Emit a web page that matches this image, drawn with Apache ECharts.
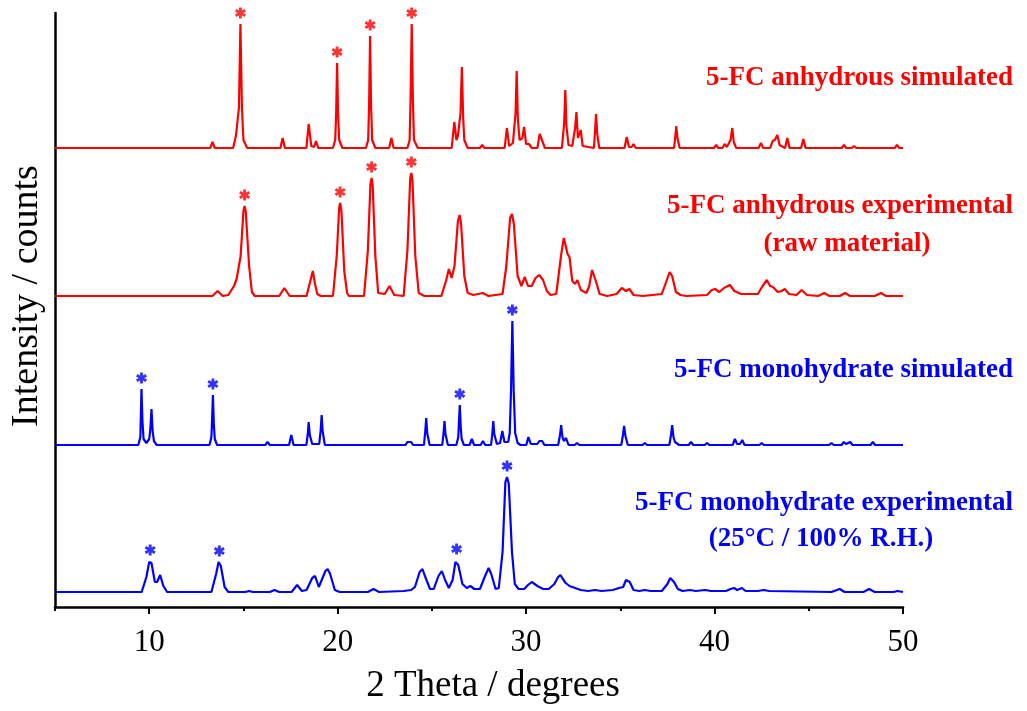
<!DOCTYPE html>
<html>
<head>
<meta charset="utf-8">
<script src="https://cdn.jsdelivr.net/npm/echarts@6/dist/echarts.min.js"></script>
<style>html,body{margin:0;padding:0;background:#fff}#c{width:1027px;height:711px}</style>
</head>
<body>
<div id="c"></div>
<script>
// ---- data (2θ in degrees, intensity above each pattern's own baseline, arbitrary counts) ----
const xTickLabels = [10, 20, 30, 40, 50];
const xMinorTicks = [5, 15, 25, 35, 45];

const seriesNames = [
  '5-FC anhydrous simulated',
  '5-FC anhydrous experimental',
  '5-FC monohydrate simulated',
  '5-FC monohydrate experimental'
];
const labelLines = [
  ['5-FC anhydrous simulated'],
  ['5-FC anhydrous experimental', '(raw material)'],
  ['5-FC monohydrate simulated'],
  ['5-FC monohydrate experimental', '(25°C / 100% R.H.)']
];
// vertical stacking offsets of the patterns
const offsets = [459, 311, 162, 15];

const anhSim = [
  [5,0],[13.24,0],[13.36,6],[13.48,0],
  [14.45,0],[14.6,12],[14.7,12],[14.76,40],[14.84,124],[14.92,40],[15.0,8],[15.2,0],
  [16.96,0],[17.08,10],[17.2,0],
  [18.34,0],[18.46,24],[18.6,2],[18.75,1],[18.85,7],[18.97,0],
  [19.75,0],[19.87,8],[19.92,35],[19.97,85],[20.02,35],[20.08,8],[20.25,0],
  [21.5,0],[21.62,8],[21.67,45],[21.72,112],[21.77,45],[21.83,8],[22.0,0],
  [22.73,0],[22.85,10],[22.97,0],
  [23.7,0],[23.82,8],[23.87,50],[23.93,124],[23.99,50],[24.05,8],[24.25,0],
  [26.05,0],[26.19,26],[26.3,8],[26.38,12],[26.52,35],[26.59,81],[26.66,30],[26.72,8],[26.9,0],
  [27.55,0],[27.67,3],[27.79,0],
  [28.86,0],[28.98,20],[29.1,2],[29.3,5],[29.44,35],[29.5,77],[29.56,30],[29.65,8],[29.8,10],[29.89,21],[30.0,4],[30.15,4],[30.3,0],
  [30.6,0],[30.72,14],[30.8,16],[30.9,5],[31.0,0],
  [31.9,0],[32.02,25],[32.08,58],[32.14,22],[32.25,3],[32.45,2],[32.6,20],[32.67,36],[32.75,10],[32.82,8],[32.9,18],[33.0,2],[33.1,0],
  [33.6,0],[33.66,17],[33.71,34],[33.77,15],[33.88,0],
  [35.22,0],[35.34,11],[35.46,1],[35.6,1],[35.7,4],[35.82,0],
  [36.6,0],[36.7,1],[36.8,0],
  [37.85,0],[37.92,12],[37.97,22],[38.03,10],[38.15,0],[38.4,0],[38.5,2],[38.6,0],
  [39.3,0],[39.4,1],[39.5,0],
  [39.97,0],[40.09,3],[40.2,0],[40.42,0],[40.53,4],[40.65,1],[40.85,8],[40.94,20],[41.02,6],[41.15,0],
  [41.5,0],[41.6,1],[41.7,0],
  [42.34,0],[42.46,5],[42.58,0],
  [42.95,0],[43.08,7],[43.2,8],[43.33,13],[43.45,3],[43.55,1],[43.74,0],[43.86,10],[43.98,0],
  [44.59,0],[44.71,9],[44.83,0],
  [46.3,0],[46.4,1],[46.5,0],[46.75,0],[46.87,3],[46.99,0],
  [47.28,0],[47.4,2],[47.52,0],
  [49.56,0],[49.68,3],[49.8,0],[50,0]
];

const anhExp = [
  [5,0],[9.9,0],[10.0,1],[10.1,0],
  [13.35,0],[13.63,5],[13.9,0],
  [14.2,1],[14.5,10],[14.64,17],[14.85,40],[15.0,85],[15.06,90],[15.12,85],[15.3,30],[15.45,4],[15.6,0],
  [16.9,0],[17.17,8],[17.45,0],
  [18.35,0],[18.55,15],[18.68,25],[18.8,12],[18.92,2],[18.98,3],[19.1,0],
  [19.75,0],[19.95,40],[20.08,88],[20.13,93],[20.2,85],[20.35,25],[20.5,3],[20.6,0],
  [21.4,0],[21.6,45],[21.74,112],[21.8,118],[21.86,110],[22.0,40],[22.15,3],[22.5,2],[22.75,10],[23.0,1],
  [23.5,0],[23.7,45],[23.85,118],[23.91,123],[23.97,115],[24.12,40],[24.3,3],[24.6,0],
  [25.5,0],[25.75,15],[25.9,27],[26.05,18],[26.2,30],[26.38,75],[26.47,81],[26.55,72],[26.72,20],[26.9,3],[27.2,1],[27.7,3],[28.0,0],
  [28.75,2],[28.95,30],[29.15,78],[29.25,82],[29.35,72],[29.55,20],[29.75,10],[29.93,19],[30.1,10],[30.3,10],[30.5,18],[30.69,21],[30.9,16],[31.1,5],[31.3,1],
  [31.6,2],[31.85,40],[32.0,58],[32.07,59],[32.2,42],[32.3,39],[32.45,15],[32.6,12],[32.72,16],[32.9,6],[33.2,3],
  [33.35,10],[33.5,26],[33.57,28],[33.7,15],[33.9,2],[34.3,0],
  [34.8,2],[35.08,8],[35.3,5],[35.48,7],[35.7,1],[36.2,0],
  [37.2,2],[37.45,15],[37.62,24],[37.75,20],[37.95,4],[38.2,1],[38.5,0],
  [39.6,1],[39.85,6],[40.03,7],[40.25,4],[40.5,8],[40.82,11],[41.05,5],[41.4,2],
  [42.3,2],[42.55,10],[42.77,16],[42.95,10],[43.1,9],[43.35,4],[43.55,5],[43.73,7],[43.95,2],
  [44.35,1],[44.62,6],[44.9,1],
  [45.5,0],[45.82,3],[46.1,0],
  [46.65,0],[46.92,3],[47.2,0],
  [48.5,0],[48.83,3],[49.1,0],[50,0]
];

const monoSim = [
  [5,0],[9.42,0],[9.53,8],[9.55,25],[9.59,56],[9.64,24],[9.7,6],[9.85,2],[10.0,6],[10.06,16],[10.12,36],[10.18,14],[10.25,4],[10.4,0],
  [11.6,0],[11.7,1],[11.8,0],
  [13.2,0],[13.3,8],[13.33,22],[13.38,50],[13.43,20],[13.48,6],[13.6,0],
  [15.3,0],[15.4,1],[15.5,0],
  [16.16,0],[16.28,3],[16.4,0],
  [17.42,0],[17.54,10],[17.66,0],
  [18.34,0],[18.42,12],[18.46,23],[18.52,10],[18.65,1],
  [19.02,1],[19.1,15],[19.15,30],[19.2,14],[19.32,0],
  [21.8,0],[21.9,1],[22.0,0],
  [23.6,0],[23.7,3],[23.8,1],[23.9,3],[24.0,0],
  [24.58,0],[24.65,14],[24.7,27],[24.75,12],[24.88,0],
  [25.55,0],[25.62,12],[25.67,24],[25.72,11],[25.85,0],
  [26.3,0],[26.4,8],[26.43,20],[26.48,40],[26.53,18],[26.58,6],[26.7,0],
  [27.0,0],[27.12,6],[27.24,0],
  [27.59,0],[27.71,4],[27.83,0],
  [28.14,0],[28.21,12],[28.26,24],[28.31,11],[28.45,1],[28.62,2],[28.74,14],[28.85,3],[29.05,3],[29.13,12],[29.2,55],[29.27,124],[29.34,55],[29.42,12],[29.55,2],[29.7,0],
  [30.01,0],[30.12,8],[30.25,1],[30.6,1],[30.7,4],[30.78,2],[30.85,4],[30.97,0],
  [31.7,0],[31.8,10],[31.86,20],[31.93,8],[32.0,4],[32.12,7],[32.25,0],
  [32.58,0],[32.7,2],[32.82,0],
  [33.0,0],[33.1,1],[33.2,0],
  [33.6,0],[33.7,1],[33.8,0],
  [35.05,0],[35.14,10],[35.2,19],[35.27,9],[35.4,0],
  [36.18,0],[36.3,2],[36.42,0],
  [37.6,0],[37.69,10],[37.75,20],[37.82,8],[37.9,3],[38.0,3],[38.12,0],
  [38.63,0],[38.75,3],[38.87,0],
  [39.48,0],[39.6,2],[39.72,0],
  [40.4,0],[40.5,1],[40.6,0],
  [40.96,0],[41.08,6],[41.2,1],[41.35,1],[41.47,5],[41.59,0],
  [42.38,0],[42.5,2],[42.62,0],[42.8,0],[42.9,1],[43.0,0],
  [46.08,0],[46.2,2],[46.32,0],
  [46.74,0],[46.86,3],[46.98,1],[47.08,1],[47.2,3],[47.32,0],
  [48.28,0],[48.4,3],[48.52,0],
  [49.8,0],[49.9,1],[50,0]
];

const monoExp = [
  [5,0],[9.6,0],[9.85,15],[10.0,30],[10.05,31],[10.12,29],[10.3,10],[10.42,10],[10.58,17],[10.75,6],[10.95,0],
  [13.3,0],[13.55,18],[13.68,30],[13.72,30],[13.8,26],[14.0,5],[14.2,0],
  [15.1,0],[15.3,1],[15.5,0],
  [16.4,0],[16.65,2],[16.9,0],
  [17.55,0],[17.85,7],[18.1,1],[18.35,2],[18.65,14],[18.8,16],[19.0,5],[19.1,5],[19.35,21],[19.47,23],[19.6,18],[19.85,2],[20.1,0],
  [21.6,0],[21.9,3],[22.2,0],
  [23.5,1],[23.9,2],[24.1,5],[24.35,20],[24.5,23],[24.65,15],[24.9,3],[25.1,3],[25.35,16],[25.53,21],[25.7,12],[25.9,4],
  [26.1,12],[26.25,30],[26.31,32],[26.4,27],[26.62,8],[26.85,4],[27.04,6],[27.25,3],[27.55,3],[27.8,15],[28.01,24],[28.15,18],[28.38,3],
  [28.55,4],[28.75,40],[28.9,110],[28.99,115],[29.08,108],[29.25,40],[29.4,8],[29.6,3],[29.9,3],[30.1,7],[30.3,10],[30.45,8],[30.6,6],
  [30.9,3],[31.2,3],[31.5,8],[31.7,15],[31.82,17],[31.95,13],[32.1,9],[32.3,6],[32.6,4],[32.9,2],[33.3,1],[33.65,2],[34.0,1],
  [34.6,2],[34.93,4],[35.15,5],[35.3,12],[35.4,14],[35.5,10],[35.7,2],[36.0,1],[36.3,2],[36.6,1],
  [37.2,1],[37.5,8],[37.65,14],[37.72,14],[37.85,10],[38.05,3],[38.3,1],[38.7,2],[39.0,1],[39.5,2],[39.8,1],
  [40.6,1],[40.85,3],[41.03,4],[41.2,2],[41.45,4],[41.65,1],
  [42.3,1],[42.6,2],[42.9,1],
  [46.2,0],[46.64,3],[46.9,0],
  [47.9,0],[48.2,3],[48.5,0],
  [49.5,0],[49.7,1],[50,0]
];

// peaks marked with an asterisk (2θ)
const starsAnhSim = [14.84, 19.97, 21.72, 23.93];
const starsAnhExp = [15.06, 20.13, 21.8, 23.91];
const starsMonoSim = [9.59, 13.38, 26.48, 29.27];
const starsMonoExp = [10.05, 13.72, 26.31, 28.99];

const patterns = [anhSim, anhExp, monoSim, monoExp];
const starLists = [starsAnhSim, starsAnhExp, starsMonoSim, starsMonoExp];
const colors = ['#ff0000', '#ff0000', '#0000ff', '#0000ff'];

// ---- chart ----
const chart = echarts.init(document.getElementById('c'), null, {renderer: 'canvas'});
const serif = '"Liberation Serif", "Times New Roman", serif';
const asterisk = 'path://M-1.3,-5L1.3,-5L1.3,5L-1.3,5Z M3.68,-3.63L4.98,-1.37L-3.68,3.63L-4.98,1.37Z M-4.98,-1.37L-3.68,-3.63L4.98,1.37L3.68,3.63Z';

const series = [];
patterns.forEach((pat, i) => {
  series.push({
    name: seriesNames[i],
    type: 'line',
    data: pat.map(p => [p[0], p[1] + offsets[i]]),
    showSymbol: false,
    symbol: 'none',
    lineStyle: {color: colors[i], width: 2.2},
    animation: false,
    silent: true
  });
  series.push({
    name: seriesNames[i] + ' *',
    type: 'scatter',
    symbol: asterisk,
    symbolSize: [11, 11],
    symbolOffset: [0, -11],
    itemStyle: {color: colors[i]},
    data: starLists[i].map(x => {
      const pt = pat.find(p => p[0] === x);
      return [x, pt[1] + offsets[i]];
    }),
    animation: false,
    silent: true
  });
});

const graphics = [
  {type: 'text', x: 27, y: 296, rotation: Math.PI / 2,
   style: {text: 'Intensity / counts', font: '38px ' + serif, fill: '#000', textAlign: 'center', textVerticalAlign: 'middle'}},
  {type: 'text', x: 493, y: 686,
   style: {text: '2 Theta / degrees', font: '37px ' + serif, fill: '#000', textAlign: 'center', textVerticalAlign: 'middle'}}
];
const labelPos = [
  [{x: 1013, y: 78, align: 'right'}],
  [{x: 1013, y: 206, align: 'right'}, {x: 847, y: 244, align: 'center'}],
  [{x: 1013, y: 370, align: 'right'}],
  [{x: 1013, y: 503, align: 'right'}, {x: 821, y: 539, align: 'center'}]
];
labelLines.forEach((lines, i) => {
  lines.forEach((t, j) => {
    const p = labelPos[i][j];
    graphics.push({type: 'text', x: p.x, y: p.y,
      style: {text: t, font: 'bold 27px ' + serif, fill: colors[i], textAlign: p.align, textVerticalAlign: 'middle'}});
  });
});

chart.setOption({
  backgroundColor: '#fff',
  animation: false,
  grid: {left: 55, right: 124, top: 13, bottom: 104, containLabel: false},
  xAxis: [
    {type: 'value', min: 5, max: 50, position: 'bottom',
     axisLine: {show: true, onZero: false, lineStyle: {color: '#000', width: 2.5}},
     axisTick: {show: true, customValues: xTickLabels, length: 7, lineStyle: {color: '#000', width: 2}},
     axisLabel: {show: true, customValues: xTickLabels, margin: 20, fontFamily: serif, fontSize: 31, color: '#000'},
     splitLine: {show: false}},
    {type: 'value', min: 5, max: 50, position: 'top', offset: -594,
     axisLine: {show: false},
     axisTick: {show: true, inside: true, customValues: xMinorTicks, length: 4, lineStyle: {color: '#000', width: 2}},
     axisLabel: {show: false},
     splitLine: {show: false}}
  ],
  yAxis: {type: 'value', min: 0, max: 594,
    axisLine: {show: true, onZero: false, lineStyle: {color: '#000', width: 2.5}},
    axisTick: {show: false}, axisLabel: {show: false}, splitLine: {show: false}},
  series: series,
  graphic: graphics
});
</script>
</body>
</html>
